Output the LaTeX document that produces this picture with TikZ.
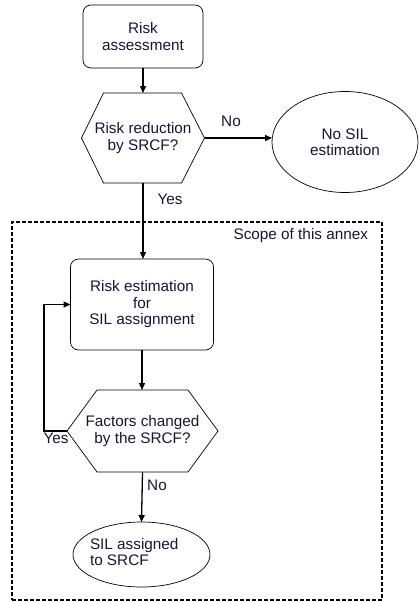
\documentclass[tikz,border=0pt]{standalone}
\usepackage{fontspec}
\setmainfont{Liberation Sans}
\usetikzlibrary{shapes.geometric,arrows.meta}
\definecolor{inktext}{RGB}{22,22,50}
\begin{document}
\begin{tikzpicture}[x=1pt,y=-1pt,
  every node/.style={inner sep=0pt, outer sep=0pt, text=inktext,
    font=\fontsize{15.3}{16.5}\selectfont},
  procbox/.style={draw, rounded corners=8pt, align=center, line width=0.7pt},
  decision/.style={align=center},
  hexline/.style={line width=0.7pt, line join=miter},
  terminal/.style={draw, ellipse, align=center, line width=0.7pt},
  scopebox/.style={draw, dash pattern=on 4pt off 2pt, line width=1.4pt},
  flow/.style={-{Triangle[length=7pt,width=6pt]}, line width=1.3pt}]
\useasboundingbox (0,0) rectangle (419,602);

% area covered by this annex
\node[scopebox, minimum width=370pt, minimum height=378pt] (scope) at (197,411) {};
\node[anchor=east] (scopelbl) at (368,236) {Scope of this annex};

% upper flow
\node[procbox, minimum width=120pt, minimum height=63pt] (assess) at (143,36.5) {Risk\\assessment};
\node[decision, minimum width=123pt, minimum height=90pt] (reduce) at (143,138) {Risk reduction\\by SRCF?};
\draw[hexline] ([xshift=22pt]reduce.north west) -- ([xshift=-23pt]reduce.north east)
  -- (reduce.east) -- ([xshift=-23pt]reduce.south east) -- ([xshift=22pt]reduce.south west)
  -- (reduce.west) -- cycle;
\node[terminal, minimum width=146pt, minimum height=101pt] (nosil) at (345,142) {No SIL\\estimation};

% lower flow
\node[procbox, minimum width=143pt, minimum height=91pt] (estim) at (142,304.5) {Risk estimation\\for\\SIL assignment};
\node[decision, minimum width=151pt, minimum height=82pt] (factors) at (142.5,431) {Factors changed\\by the SRCF?};
\draw[hexline] ([xshift=30pt]factors.north west) -- ([xshift=-30pt]factors.north east)
  -- (factors.east) -- ([xshift=-30pt]factors.south east) -- ([xshift=30pt]factors.south west)
  -- (factors.west) -- cycle;
\node[terminal, minimum width=137pt, minimum height=65pt] (assigned) at (141.5,554.5) {};
\node[align=left, anchor=west] (assignedtxt) at (90,552) {SIL assigned\\to SRCF};

% connectors
\draw[flow] (assess.south) -- (reduce.north);
\draw[flow] (reduce.east) -- (reduce.east -| nosil.west);
\draw[flow] (reduce.south) -- (reduce.south |- estim.north);
\draw[flow] (estim.south) -- (estim.south |- factors.north);
\draw[flow] (factors.south) -- (assigned.north);
\coordinate (loopx) at (44,0);
\draw[flow] (factors.west) -- (factors.west -| loopx) -- (estim.west -| loopx) -- (estim.west);

% branch labels
\node (nolbl) at (231,121) {No};
\node (yeslbl) at (170,199) {Yes};
\node (yesloop) at (56,438) {Yes};
\node (noloop) at (157,485) {No};
\end{tikzpicture}
\end{document}
